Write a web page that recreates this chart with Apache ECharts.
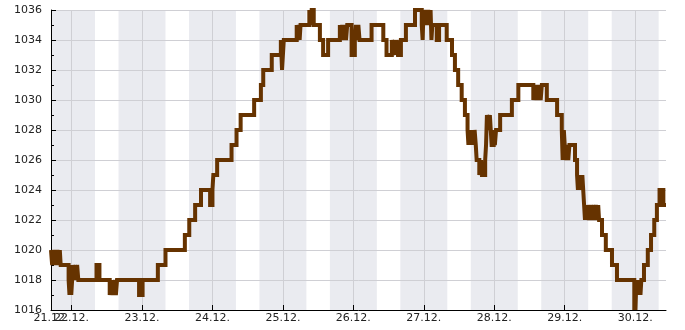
<!DOCTYPE html>
<html>
<head>
<meta charset="utf-8">
<script src="https://cdn.jsdelivr.net/npm/echarts@6/dist/echarts.min.js"></script>
<style>
html,body{margin:0;padding:0;background:#fff;}
#chart{width:685px;height:330px;}
</style>
</head>
<body>
<div id="chart"></div>
<script>
// hours since 21.12. 00:00
const axisStartHour = 17;
const axisEndHour = 226.5;
const dayTickHours = [24, 48, 72, 96, 120, 144, 168, 192, 216];
const dayLabels = ['22.12.', '23.12.', '24.12.', '25.12.', '26.12.', '27.12.', '28.12.', '29.12.', '30.12.'];
const startLabel = '21.12.';
// night shading: [start, end] hours (16:00 to 08:00)
const nightStart = [16, 40, 64, 88, 112, 136, 160, 184, 208];
const nightEnd = [32, 56, 80, 104, 128, 152, 176, 200, 224];
const yTicks = [1016, 1018, 1020, 1022, 1024, 1026, 1028, 1030, 1032, 1034, 1036];

// pressure change points (value holds until next point)
const hours = [
  17.0, 17.4, 17.7, 18.0, 18.4, 18.8, 19.2, 19.6, 20.0, 20.3,
  23.0, 23.3, 23.6, 23.9, 24.2, 24.5, 24.9, 25.2, 25.6, 25.9, 26.3,
  32.5, 33.5,
  37.0, 37.4, 37.6, 38.0, 38.3, 38.8, 39.1, 39.5,
  47.0, 48.2,
  53.4, 56.0, 62.6, 64.1, 66.1, 68.1, 71.2, 72.0, 72.3, 73.6,
  78.5, 80.2, 81.6, 86.2, 88.5, 89.3, 92.2, 95.3, 95.7, 96.3,
  100.7, 101.0, 101.4, 101.7, 102.0,
  105.0, 105.5, 105.8, 106.5,
  108.6, 109.7, 111.4, 115.4, 115.8, 116.2, 116.6, 117.0, 117.5, 117.9,
  119.4, 120.5, 120.9, 121.3, 121.7, 122.1,
  126.2, 130.2, 131.3, 133.1, 133.6, 134.2, 134.5, 134.8, 135.2, 136.2, 137.9,
  141.0, 143.3, 143.6, 143.9, 144.3, 144.7, 145.1, 145.5, 145.9, 146.3, 146.6, 146.9,
  148.4, 149.2, 151.8, 153.6, 154.6, 155.7, 156.9, 158.0,
  158.9, 159.2, 159.5, 159.8, 160.1, 160.4, 160.7, 161.0, 161.3, 161.7,
  162.0, 162.9, 163.5, 163.8, 164.9, 165.2, 165.5, 166.0, 166.5, 166.8, 167.1,
  167.8, 168.2, 168.6, 170.0, 174.0, 176.2,
  181.3, 181.7, 182.1, 182.5, 183.0, 183.4, 183.8, 184.2, 185.9,
  189.4, 191.0, 191.3, 191.7, 192.0, 192.4, 192.8, 193.2, 193.6, 195.5,
  196.2, 196.5, 196.8, 197.1, 197.4, 197.7, 198.0, 198.3, 198.6,
  198.9, 199.2, 199.5, 199.8, 200.2, 200.5, 200.8, 201.2, 201.5, 201.9, 202.2, 202.6, 203.0, 203.4, 203.7,
  204.7, 206.0, 208.1, 209.8,
  215.7, 215.9, 216.1, 216.4, 216.6, 216.9, 217.2, 217.5, 217.8, 218.1,
  219.0, 220.3, 221.4, 222.5, 223.4, 224.3, 225.6, 226.5
];
const pressure = [
  1020, 1019, 1020, 1019, 1020, 1019, 1020, 1019, 1020, 1019,
  1018, 1017, 1019, 1017, 1018, 1019, 1018, 1019, 1018, 1019, 1018,
  1019, 1018,
  1017, 1018, 1017, 1018, 1017, 1018, 1017, 1018,
  1017, 1018,
  1019, 1020, 1021, 1022, 1023, 1024, 1023, 1024, 1025, 1026,
  1027, 1028, 1029, 1030, 1031, 1032, 1033, 1034, 1032, 1034,
  1035, 1034, 1035, 1034, 1035,
  1036, 1035, 1036, 1035,
  1034, 1033, 1034, 1035, 1034, 1035, 1034, 1035, 1034, 1035,
  1033, 1034, 1035, 1034, 1035, 1034,
  1035, 1034, 1033, 1034, 1033, 1034, 1033, 1034, 1033, 1034, 1035,
  1036, 1035, 1034, 1036, 1035, 1036, 1035, 1036, 1035, 1036, 1034, 1035,
  1034, 1035, 1034, 1033, 1032, 1031, 1030, 1029,
  1028, 1027, 1028, 1027, 1028, 1027, 1028, 1027, 1028, 1027,
  1026, 1025, 1026, 1025, 1026, 1027, 1029, 1028, 1029, 1028, 1027,
  1028, 1027, 1028, 1029, 1030, 1031,
  1030, 1031, 1030, 1031, 1030, 1031, 1030, 1031, 1030,
  1029, 1028, 1026, 1028, 1027, 1026, 1027, 1026, 1027, 1026,
  1025, 1024, 1025, 1024, 1025, 1024, 1025, 1024, 1023,
  1022, 1023, 1022, 1023, 1022, 1023, 1022, 1023, 1022, 1023, 1022, 1023, 1022, 1023, 1022,
  1021, 1020, 1019, 1018,
  1016, 1017, 1016, 1018, 1017, 1018, 1017, 1018, 1017, 1018,
  1019, 1020, 1021, 1022, 1023, 1024, 1023, 1023
];

const seriesData = hours.map((h, i) => [h, pressure[i]]);
const nightAreas = nightStart.map((s, i) => [
  { xAxis: Math.max(s, axisStartHour) },
  { xAxis: Math.min(nightEnd[i], axisEndHour) }
]);

const chart = echarts.init(document.getElementById('chart'), null, { renderer: 'canvas' });
const fontFamily = '"DejaVu Sans", sans-serif';
const labelStyle = { color: '#222', fontSize: 11, fontFamily: fontFamily };
chart.setOption({
  animation: false,
  backgroundColor: '#ffffff',
  grid: { left: 51, right: 19, top: 10, bottom: 20, containLabel: false },
  xAxis: [
    {
      type: 'value',
      min: axisStartHour,
      max: axisEndHour,
      position: 'bottom',
      z: 3,
      axisLine: { show: true, onZero: false, lineStyle: { color: '#000', width: 1 } },
      axisTick: { show: true, inside: true, length: 5, customValues: dayTickHours, lineStyle: { color: '#000' } },
      axisLabel: Object.assign({
        show: true, customValues: dayTickHours, margin: 3, hideOverlap: false,
        formatter: function (v) {
          let best = 0;
          for (let i = 1; i < dayTickHours.length; i++) {
            if (Math.abs(dayTickHours[i] - v) < Math.abs(dayTickHours[best] - v)) best = i;
          }
          return dayLabels[best];
        }
      }, labelStyle),
      splitLine: { show: true, lineStyle: { color: '#cfcfd4', width: 1 } }
    },
    {
      type: 'value',
      min: axisStartHour,
      max: axisEndHour,
      position: 'bottom',
      offset: 0,
      z: 4,
      axisLine: { show: false, onZero: false },
      axisTick: { show: false },
      splitLine: { show: false },
      axisLabel: Object.assign({
        show: true, customValues: [axisStartHour], margin: 3, showMinLabel: true, hideOverlap: false,
        formatter: function () { return startLabel; }
      }, labelStyle)
    }
  ],
  yAxis: {
    type: 'value',
    min: yTicks[0],
    max: yTicks[yTicks.length - 1],
    interval: 2,
    z: 3,
    axisLine: { show: true, lineStyle: { color: '#000', width: 1 } },
    axisTick: { show: true, inside: true, length: 5, lineStyle: { color: '#000' } },
    minorTick: { show: true, splitNumber: 2, length: 3, lineStyle: { color: '#000' } },
    axisLabel: Object.assign({ margin: 9, formatter: function (v) { return String(v); } }, labelStyle),
    splitLine: { show: true, lineStyle: { color: '#cfcfd4', width: 1 } }
  },
  series: [
    {
      type: 'line',
      z: 0,
      data: [],
      silent: true,
      markArea: {
        silent: true,
        z: 0,
        itemStyle: { color: '#eaebf0' },
        data: nightAreas
      }
    },
    {
      type: 'line',
      z: 5,
      step: 'end',
      showSymbol: false,
      data: seriesData,
      lineStyle: { color: '#663300', width: 4, join: 'miter', miterLimit: 1.5 },
      itemStyle: { color: '#663300' }
    }
  ]
});
</script>
</body>
</html>
